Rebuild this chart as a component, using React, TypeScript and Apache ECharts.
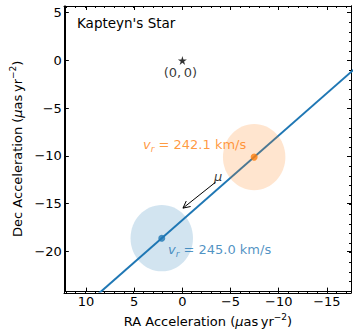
import React, { useEffect, useRef } from 'react';
import * as echarts from 'echarts';

// ---- data ----
const xRange = [-17.5, 12.2];
const yRange = [-24.2, 5.7];
const xMajorTicks = [10, 5, 0, -5, -10, -15];
const yMajorTicks = [5, 0, -5, -10, -15, -20];
const xMinorTicks = [-17, -16, -15, -14, -13, -12, -11, -10, -9, -8, -7, -6, -5, -4, -3, -2, -1, 0, 1, 2, 3, 4, 5, 6, 7, 8, 9, 10, 11, 12];
const yMinorTicks = [-24, -23, -22, -21, -20, -19, -18, -17, -16, -15, -14, -13, -12, -11, -10, -9, -8, -7, -6, -5, -4, -3, -2, -1, 0, 1, 2, 3, 4, 5];

const fitLine = [[10, -25.57], [-20, 1.0]];
const orangePoint = [-7.45, -10.12];
const bluePoint = [2.14, -18.61];
const ellipseRadius = [3.24, 3.47];
const orangeVr = '242.1';
const blueVr = '245.0';
const origin = [0, 0];
const muArrow = [-3.44, -12.75, -0.06, -15.46];

const BLUE = '#1f77b4';
const ORANGE = '#ff7f0e';
const FONT = 'DejaVu Sans';

const fmt = (v: number) => String(v).replace('-', '\u2212');

const nameRich = {
  t: { fontSize: 13, fontFamily: FONT, color: '#000', lineHeight: 18 },
  i: { fontSize: 13, fontFamily: FONT, color: '#000', fontStyle: 'italic', lineHeight: 18 },
  s: { fontSize: 9, fontFamily: FONT, color: '#000', lineHeight: 10, verticalAlign: 'top' },
};

function xAxis(gridIndex: number, position: string, ticks: number[], len: number, labels: boolean, name?: boolean) {
  return {
    type: 'value',
    gridIndex,
    position,
    inverse: true,
    min: xRange[0],
    max: xRange[1],
    splitLine: { show: false },
    axisLine: { show: true, onZero: false, lineStyle: { color: '#000', width: 1 } },
    axisTick: { show: true, inside: true, length: len, customValues: ticks, lineStyle: { color: '#000', width: 1 } },
    axisLabel: labels
      ? { show: true, customValues: ticks, formatter: fmt, fontSize: 13, color: '#000', fontFamily: FONT, margin: 3 }
      : { show: false },
    ...(name
      ? {
          name: '{t|RA Acceleration (}{i|μ}{t|as\u2009yr}{s|\u22122}{t|)}',
          nameLocation: 'middle',
          nameGap: 20,
          nameTextStyle: { rich: nameRich },
        }
      : {}),
  };
}

function yAxis(gridIndex: number, position: string, ticks: number[], len: number, labels: boolean, name?: boolean) {
  return {
    type: 'value',
    gridIndex,
    position,
    min: yRange[0],
    max: yRange[1],
    splitLine: { show: false },
    axisLine: { show: true, onZero: false, lineStyle: { color: '#000', width: 1 } },
    axisTick: { show: true, inside: true, length: len, customValues: ticks, lineStyle: { color: '#000', width: 1 } },
    axisLabel: labels
      ? { show: true, customValues: ticks, formatter: fmt, fontSize: 13, color: '#000', fontFamily: FONT, margin: 3 }
      : { show: false },
    ...(name
      ? {
          name: '{t|Dec Acceleration (}{i|μ}{t|as\u2009yr}{s|\u22122}{t|)}',
          nameLocation: 'middle',
          nameGap: 32,
          nameTextStyle: { rich: nameRich },
        }
      : {}),
  };
}

const vrRich = (color: string) => ({
  v: { fontSize: 13, fontFamily: FONT, color, fontStyle: 'italic', lineHeight: 18 },
  r: { fontSize: 9, fontFamily: FONT, color, fontStyle: 'italic', lineHeight: 10, verticalAlign: 'bottom' },
  t: { fontSize: 13, fontFamily: FONT, color, lineHeight: 18 },
});

export default function App() {
  const ref = useRef<HTMLDivElement>(null);
  useEffect(() => {
    if (!ref.current) return;
    const chart = echarts.init(ref.current, null, { renderer: 'svg' });
    const grid = { left: 64, top: 6, width: 287, height: 287 };
    chart.setOption({
      animation: false,
      grid: [grid, { ...grid }],
      xAxis: [
        xAxis(0, 'bottom', xMajorTicks, 4, true, true),
        xAxis(0, 'top', xMajorTicks, 4, false),
        xAxis(1, 'bottom', xMinorTicks, 2, false),
        xAxis(1, 'top', xMinorTicks, 2, false),
      ],
      yAxis: [
        yAxis(0, 'left', yMajorTicks, 4, true, true),
        yAxis(0, 'right', yMajorTicks, 4, false),
        yAxis(1, 'left', yMinorTicks, 2, false),
        yAxis(1, 'right', yMinorTicks, 2, false),
      ],
      graphic: [
        {
          type: 'text',
          left: 77,
          top: 16,
          style: { text: "Kapteyn's Star", fontSize: 13.5, fontFamily: FONT, fill: '#000' },
          z: 100,
        },
      ],
      series: [
        {
          type: 'line',
          xAxisIndex: 0,
          yAxisIndex: 0,
          data: fitLine,
          showSymbol: false,
          symbol: 'none',
          clip: true,
          lineStyle: { color: BLUE, width: 2 },
          z: 2,
        },
        {
          type: 'custom',
          xAxisIndex: 0,
          yAxisIndex: 0,
          data: [
            [orangePoint[0], orangePoint[1], ellipseRadius[0], ellipseRadius[1], 0],
            [bluePoint[0], bluePoint[1], ellipseRadius[0], ellipseRadius[1], 1],
          ],
          renderItem: (params: any, api: any) => {
            const c = api.coord([api.value(0), api.value(1)]);
            const s = api.size([api.value(2) * 2, api.value(3) * 2], [api.value(0), api.value(1)]);
            const fill = api.value(4) === 0 ? 'rgba(255,127,14,0.2)' : 'rgba(31,119,180,0.2)';
            return {
              type: 'ellipse',
              shape: { cx: c[0], cy: c[1], rx: s[0] / 2, ry: s[1] / 2 },
              style: { fill },
            };
          },
          z: 3,
        },
        {
          type: 'custom',
          xAxisIndex: 0,
          yAxisIndex: 0,
          data: [muArrow],
          renderItem: (params: any, api: any) => {
            const p1 = api.coord([api.value(0), api.value(1)]);
            const p2 = api.coord([api.value(2), api.value(3)]);
            const dx = p2[0] - p1[0];
            const dy = p2[1] - p1[1];
            const L = Math.sqrt(dx * dx + dy * dy);
            const ux = dx / L, uy = dy / L;
            const hl = 7, hw = 3.5;
            const bx = p2[0] - ux * hl, by = p2[1] - uy * hl;
            return {
              type: 'group',
              children: [
                { type: 'line', shape: { x1: p1[0], y1: p1[1], x2: p2[0], y2: p2[1] }, style: { stroke: '#000', lineWidth: 1 } },
                {
                  type: 'polyline',
                  shape: { points: [[bx - uy * hw, by + ux * hw], [p2[0], p2[1]], [bx + uy * hw, by - ux * hw]] },
                  style: { stroke: '#000', lineWidth: 1, fill: 'none' },
                },
              ],
            };
          },
          z: 4,
        },
        {
          type: 'scatter',
          xAxisIndex: 0,
          yAxisIndex: 0,
          data: [
            { value: orangePoint, itemStyle: { color: ORANGE } },
            { value: bluePoint, itemStyle: { color: BLUE } },
          ],
          symbolSize: 7,
          z: 5,
        },
        {
          type: 'scatter',
          xAxisIndex: 0,
          yAxisIndex: 0,
          data: [origin],
          symbol: 'path://M50,0 L61,35 L98,35 L68,57 L79,91 L50,70 L21,91 L32,57 L2,35 L39,35 Z',
          symbolSize: 9,
          itemStyle: { color: '#000' },
          label: {
            show: true,
            position: 'bottom',
            distance: 1,
            offset: [-2, 0],
            formatter: '(0,\u20090)',
            fontSize: 13,
            fontFamily: FONT,
            color: '#000',
          },
          z: 6,
        },
        {
          type: 'scatter',
          xAxisIndex: 0,
          yAxisIndex: 0,
          symbolSize: 1,
          itemStyle: { color: 'rgba(0,0,0,0)' },
          data: [
            {
              value: [4.14, -8.82],
              label: {
                show: true,
                position: 'right',
                distance: 0,
                formatter: `{v|v}{r|r}{t| = ${orangeVr} km/s}`,
                rich: vrRich(ORANGE),
              },
            },
            {
              value: [1.55, -19.76],
              label: {
                show: true,
                position: 'right',
                distance: 0,
                formatter: `{v|v}{r|r}{t| = ${blueVr} km/s}`,
                rich: vrRich(BLUE),
              },
            },
            {
              value: [-3.72, -12.13],
              label: {
                show: true,
                position: 'inside',
                formatter: 'μ',
                fontSize: 13,
                fontFamily: FONT,
                fontStyle: 'italic',
                color: '#000',
              },
            },
          ],
          z: 7,
        },
      ],
    });
    return () => chart.dispose();
  }, []);
  return <div ref={ref} style={{ width: 357, height: 333, position: 'absolute', left: 0, top: 0 }} />;
}
